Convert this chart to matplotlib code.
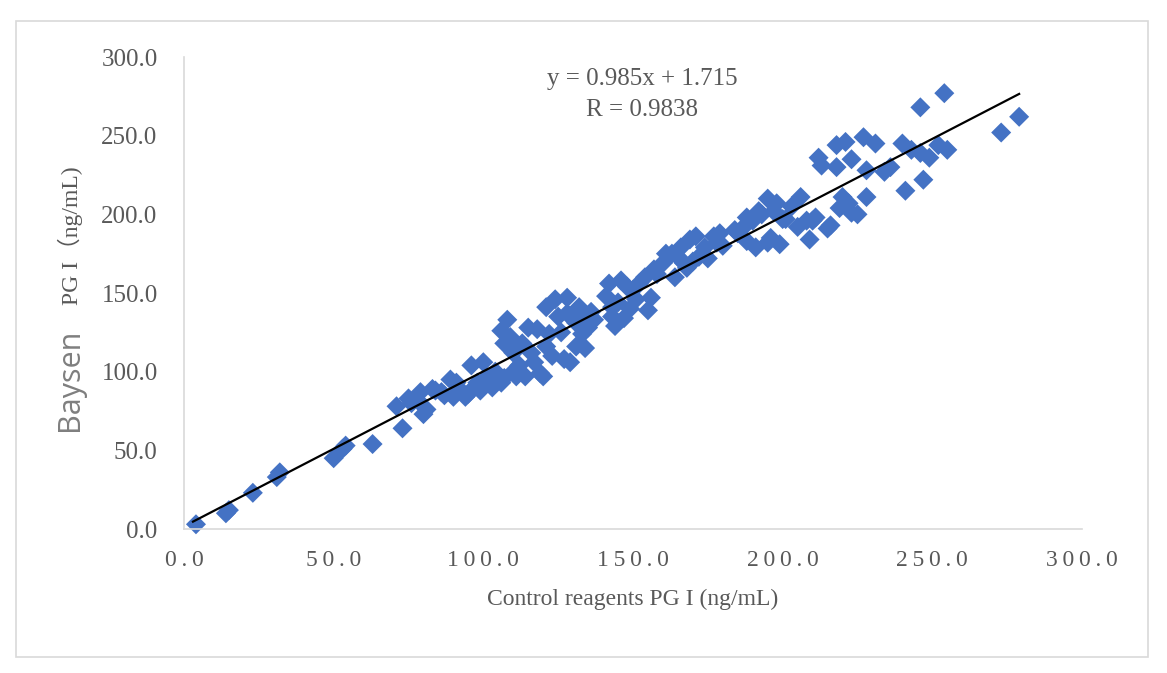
import matplotlib
matplotlib.use("Agg")
import matplotlib.pyplot as plt
from matplotlib.patches import Rectangle
import numpy as np

# ---- data ----
control_x = [4, 14, 15, 23, 31, 32, 50, 53, 54, 63,
             71, 73, 75, 76, 78, 79, 80, 81, 83, 84, 86, 87, 89, 90, 91, 92, 94, 95, 96, 97,
             98, 99, 100, 101, 103, 104, 105, 106, 107,
             106, 107, 108, 109, 110, 110, 111, 112, 113, 114, 115, 116, 117, 118, 119, 120,
             121, 121, 122, 123, 124, 125, 126, 127, 128, 128, 129, 131, 131, 132, 133, 133,
             134, 135, 136, 137,
             141, 142, 143, 143, 144, 145, 146, 147, 148, 149, 150, 151, 152, 154, 155, 156,
             157, 158, 160, 161, 163, 164, 165, 166, 167, 168, 169, 170, 171, 172,
             174, 175, 177, 178, 179, 180, 184, 185, 187, 188, 188, 190, 191, 192, 193, 195,
             196, 195, 197, 198, 199, 200, 201, 203, 205, 206, 208, 209, 210, 211,
             212, 213, 215, 216, 218, 218, 219, 220, 221, 222, 223, 223, 225, 227, 228, 228,
             231, 234, 236, 240, 241, 243, 246, 246, 247, 249, 252, 254, 255,
             273, 279]
baysen_y = [3, 10, 12, 23, 33, 36, 45, 51, 53, 54,
            78, 64, 83, 80, 82, 87, 73, 76, 89, 88, 87, 85, 95, 84, 93, 89, 84, 86, 104, 90,
            93, 88, 106, 96, 90, 100, 98, 93, 96,
            126, 118, 133, 122, 112, 100, 97, 104, 118, 97, 128, 112, 106, 127, 99, 97,
            141, 116, 124, 110, 146, 135, 125, 108, 147, 137, 106, 131, 116, 141, 135, 124,
            115, 128, 138, 133,
            148, 156, 141, 135, 129, 144, 158, 134, 154, 140, 152, 146, 156, 160, 139, 147,
            165, 162, 169, 175, 175, 160, 173, 179, 169, 166, 184, 170, 186, 173,
            179, 172, 186, 182, 188, 180, 190, 188, 192, 198, 183, 196, 179, 202, 200, 210,
            185, 182, 202, 207, 181, 197, 197, 205, 192, 211, 196, 184, 196, 198,
            236, 231, 191, 193, 244, 230, 204, 211, 246, 207, 235, 201, 200, 249, 228, 211,
            245, 227, 230, 245, 215, 241, 268, 239, 222, 236, 244, 277, 241,
            252, 262]

slope = 0.985
intercept = 1.715
r_value = 0.9838

x_ticks = [0, 50, 100, 150, 200, 250, 300]
y_ticks = [0, 50, 100, 150, 200, 250, 300]

# ---- figure ----
W, H, DPI = 1167, 673, 100
fig = plt.figure(figsize=(W / DPI, H / DPI), dpi=DPI)
fig.patch.set_facecolor("white")

serif = ["Liberation Serif", "DejaVu Serif"]
txt_color = "#595959"
grid_color = "#d9d9d9"

# outer chart border
fig.patches.append(Rectangle((16 / W, 1 - 657 / H), (1148 - 16) / W, (657 - 21) / H,
                             transform=fig.transFigure, fill=False,
                             edgecolor=grid_color, linewidth=1.2))

ax = fig.add_axes([184 / W, 1 - 529 / H, (1082 - 184) / W, (529 - 57) / H])
ax.set_xlim(0, 300)
ax.set_ylim(0, 300)

ax.scatter(control_x, baysen_y, marker="D", s=104, color="#4472C4",
           edgecolors="none", zorder=2, clip_on=False)

xl = np.array([min(control_x) - 1, max(control_x)])
ax.plot(xl, slope * xl + intercept, color="black", linewidth=1.6, zorder=3)

for side in ["top", "right"]:
    ax.spines[side].set_visible(False)
for side in ["left", "bottom"]:
    ax.spines[side].set_color(grid_color)
    ax.spines[side].set_linewidth(1.2)

ax.set_xticks(x_ticks)
ax.set_yticks(y_ticks)
thin = "\u2009"
ax.set_xticklabels([thin.join(f"{v:.1f}") for v in x_ticks],
                   fontfamily=serif, fontsize=17, color=txt_color)
ax.set_yticklabels([f"{v:.1f}" for v in y_ticks],
                   fontfamily=serif, fontsize=18, color=txt_color)
ax.tick_params(axis="both", length=0)
ax.tick_params(axis="x", pad=15)
ax.tick_params(axis="y", pad=19)

# x axis title
fig.text(633 / W, 1 - 599 / H, "Control reagents PG I (ng/mL)", ha="center", va="center",
         fontfamily=serif, fontsize=17, color=txt_color)

# y axis title (two fonts)
fig.text(70 / W, 1 - 380 / H, "Baysen", rotation=90, ha="center", va="center",
         fontfamily=["Open Sans", "DejaVu Sans"], fontsize=22, color="#7f7f7f")
fig.text(70 / W, 1 - 236 / H, "PG I\uff08ng/mL)", rotation=90, ha="center", va="center",
         fontfamily=["Liberation Serif", "Noto Sans CJK SC", "DejaVu Serif"],
         fontsize=17, color=txt_color)

# trendline equation
fig.text(642 / W, 1 - 79 / H, f"y = {slope}x + {intercept}", ha="center", va="center",
         fontfamily=serif, fontsize=18, color=txt_color)
fig.text(642 / W, 1 - 110 / H, f"R = {r_value}", ha="center", va="center",
         fontfamily=serif, fontsize=18, color=txt_color)

fig.savefig("out.png", dpi=DPI, facecolor="white")
